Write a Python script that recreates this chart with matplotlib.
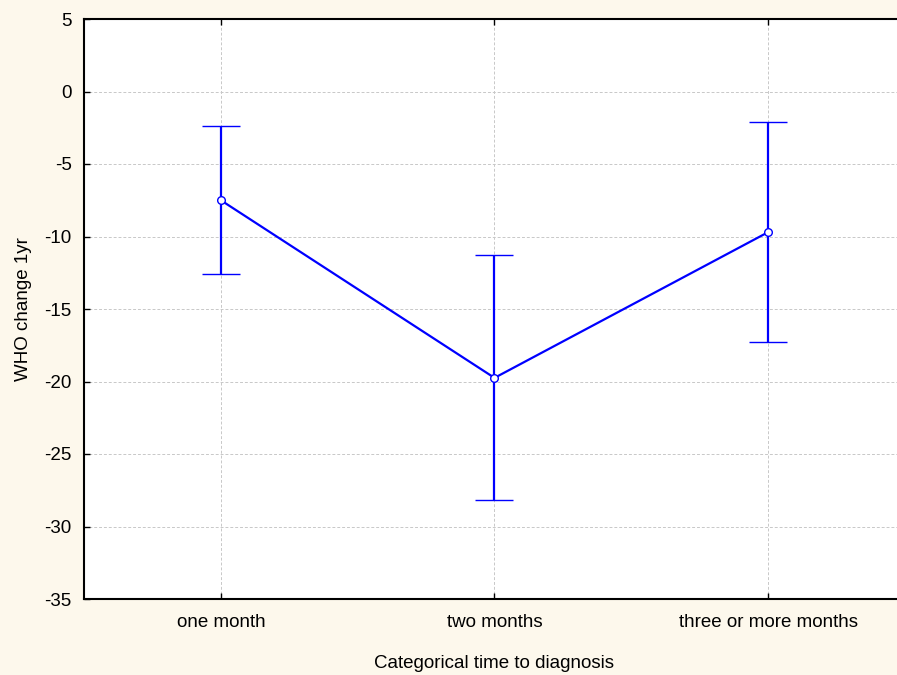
import matplotlib
matplotlib.use("Agg")
import matplotlib.pyplot as plt
import numpy as np

categories = ["one month", "two months", "three or more months"]
means = [-7.5, -19.75, -9.7]
upper = [-2.4, -11.3, -2.1]
lower = [-12.6, -28.2, -17.3]
yticks = [5, 0, -5, -10, -15, -20, -25, -30, -35]

plt.rcParams['font.family'] = ['Liberation Sans', 'DejaVu Sans']

bg = '#fdf8ec'
fig = plt.figure(figsize=(8.97, 6.75), dpi=100, facecolor=bg)
W, H = 897, 675
left_px, right_px, top_px, bot_px = 84, 905, 19, 599
ax = fig.add_axes([left_px / W, 1 - bot_px / H, (right_px - left_px) / W, (bot_px - top_px) / H])
ax.set_facecolor('white')

x = np.arange(len(categories))
m = np.array(means)
yerr = np.vstack([m - np.array(lower), np.array(upper) - m])
ax.errorbar(x, m, yerr=yerr, color='#0000ff', lw=1.6, capsize=14, capthick=1.8,
            marker='o', markersize=5.5, markerfacecolor='white', markeredgecolor='#0000ff',
            markeredgewidth=1.0, zorder=3)

fs = 13.5
ax.set_xlim(-0.5, 2.5)
ax.set_ylim(-35, 5)
ax.set_xticks(x)
ax.set_xticklabels(categories, fontsize=fs)
ax.set_yticks(yticks)
ax.set_yticklabels([str(t) for t in yticks], fontsize=fs)
ax.tick_params(direction='in', length=4, width=1, top=True, bottom=True, right=False, left=True, pad=9)
ax.tick_params(axis='x', pad=11)
ax.grid(True, color='#c8c8c8', linestyle=(0, (3, 2)), linewidth=0.7)
ax.set_axisbelow(True)
for s in ['left', 'top', 'bottom']:
    ax.spines[s].set_linewidth(1.5)
    ax.spines[s].set_color('black')
ax.spines['right'].set_visible(False)

ax.set_xlabel("Categorical time to diagnosis", fontsize=fs, labelpad=17)
ax.set_ylabel("WHO change 1yr", fontsize=fs, labelpad=9)

fig.savefig("out.png", dpi=100, facecolor=bg)
